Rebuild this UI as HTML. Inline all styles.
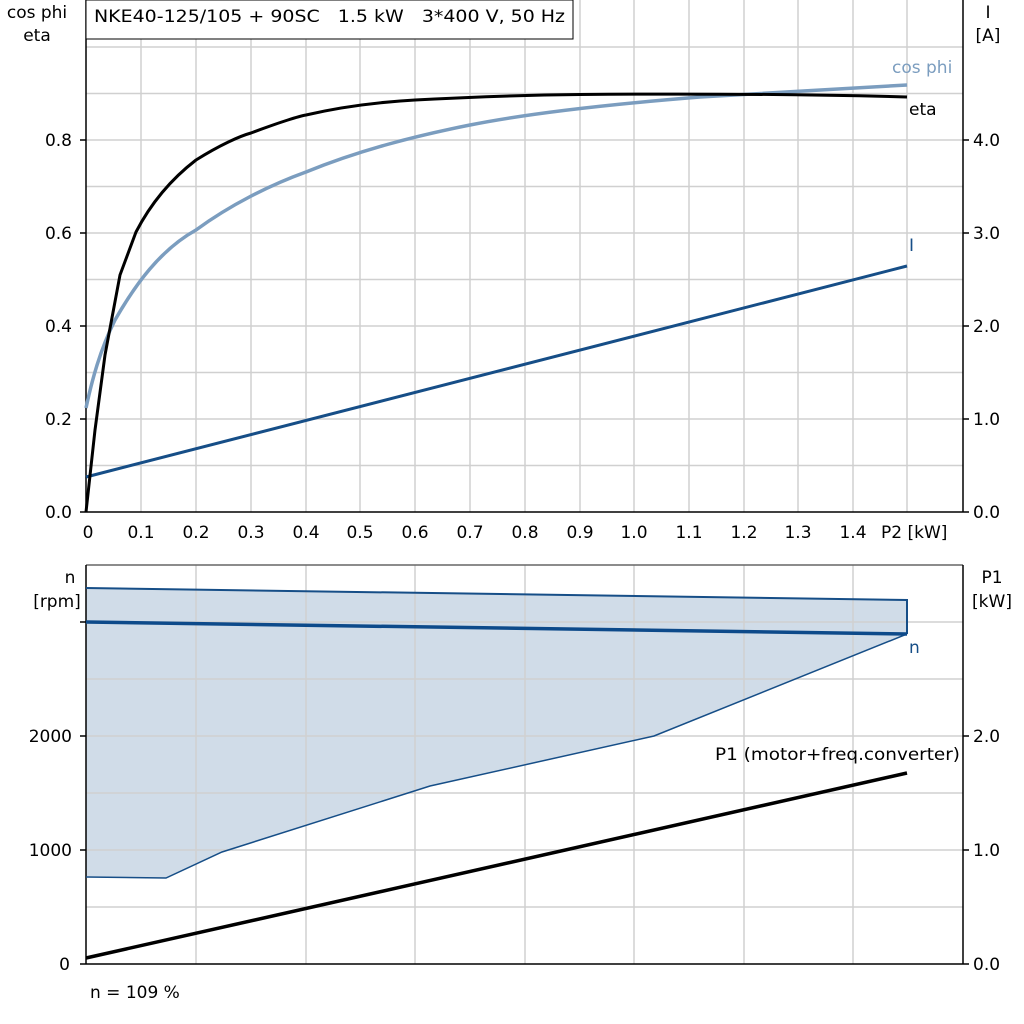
<!DOCTYPE html>
<html><head><meta charset="utf-8"><style>
html,body{margin:0;padding:0;background:#fff;}
svg{display:block;font-family:"DejaVu Sans","Liberation Sans",sans-serif;}
text{white-space:pre;}
</style></head><body>
<svg width="1024" height="1024" viewBox="0 0 1024 1024" xmlns="http://www.w3.org/2000/svg" xml:space="preserve">
<rect width="1024" height="1024" fill="#fff"/>
<g stroke="#d0d0d0" stroke-width="1.5">
<line x1="141" y1="0" x2="141" y2="512"/><line x1="196" y1="0" x2="196" y2="512"/>
<line x1="251" y1="0" x2="251" y2="512"/><line x1="306" y1="0" x2="306" y2="512"/>
<line x1="360" y1="0" x2="360" y2="512"/><line x1="415" y1="0" x2="415" y2="512"/>
<line x1="470" y1="0" x2="470" y2="512"/><line x1="525" y1="0" x2="525" y2="512"/>
<line x1="580" y1="0" x2="580" y2="512"/><line x1="634" y1="0" x2="634" y2="512"/>
<line x1="689" y1="0" x2="689" y2="512"/><line x1="744" y1="0" x2="744" y2="512"/>
<line x1="798" y1="0" x2="798" y2="512"/><line x1="853" y1="0" x2="853" y2="512"/>
<line x1="907" y1="0" x2="907" y2="512"/>
<line x1="86" y1="465.5" x2="963" y2="465.5"/><line x1="86" y1="419" x2="963" y2="419"/>
<line x1="86" y1="372.5" x2="963" y2="372.5"/><line x1="86" y1="326" x2="963" y2="326"/>
<line x1="86" y1="279.5" x2="963" y2="279.5"/><line x1="86" y1="233" x2="963" y2="233"/>
<line x1="86" y1="186.5" x2="963" y2="186.5"/><line x1="86" y1="140" x2="963" y2="140"/>
<line x1="86" y1="93.5" x2="963" y2="93.5"/><line x1="86" y1="47" x2="963" y2="47"/>
</g>
<g stroke="#000" stroke-width="1.5" fill="none">
<line x1="86" y1="0" x2="86" y2="512"/><line x1="963" y1="0" x2="963" y2="512"/>
<line x1="86" y1="512" x2="963" y2="512"/>
<line x1="80" y1="512" x2="86" y2="512"/><line x1="80" y1="419" x2="86" y2="419"/><line x1="80" y1="326" x2="86" y2="326"/><line x1="80" y1="233" x2="86" y2="233"/><line x1="80" y1="140" x2="86" y2="140"/>
<line x1="963" y1="512" x2="969" y2="512"/><line x1="963" y1="419" x2="969" y2="419"/><line x1="963" y1="326" x2="969" y2="326"/><line x1="963" y1="233" x2="969" y2="233"/><line x1="963" y1="140" x2="969" y2="140"/>
</g>
<rect x="86" y="0" width="487" height="39" fill="#fff" stroke="#000" stroke-width="1"/>
<text x="94" y="22" font-size="17" textLength="471" lengthAdjust="spacingAndGlyphs">NKE40-125/105 + 90SC   1.5 kW   3*400 V, 50 Hz</text>
<g font-size="17" fill="#000">
<text x="37" y="18" text-anchor="middle">cos phi</text><text x="37" y="41" text-anchor="middle">eta</text>
<text x="988" y="18" text-anchor="middle">I</text><text x="988" y="41" text-anchor="middle">[A]</text>
<g text-anchor="end"><text x="72" y="518">0.0</text><text x="72" y="425">0.2</text><text x="72" y="332">0.4</text><text x="72" y="239">0.6</text><text x="72" y="146">0.8</text></g>
<g><text x="973" y="518">0.0</text><text x="973" y="425">1.0</text><text x="973" y="332">2.0</text><text x="973" y="239">3.0</text><text x="973" y="146">4.0</text></g>
<g text-anchor="middle"><text x="88" y="538">0</text><text x="141" y="538">0.1</text><text x="196" y="538">0.2</text><text x="251" y="538">0.3</text><text x="306" y="538">0.4</text><text x="360" y="538">0.5</text><text x="415" y="538">0.6</text><text x="470" y="538">0.7</text><text x="525" y="538">0.8</text><text x="580" y="538">0.9</text><text x="634" y="538">1.0</text><text x="689" y="538">1.1</text><text x="744" y="538">1.2</text><text x="798" y="538">1.3</text><text x="853" y="538">1.4</text></g>
<text x="881" y="538">P2 [kW]</text>
</g>
<polyline fill="none" stroke="#164e87" stroke-width="3" points="86,477 907,266"/>
<path fill="none" stroke="#7b9dbf" stroke-width="3.5" d="M86,408 C92,380 100,350 115,320 C135,285 160,250 196,230 C230,205 270,185 306,172 C360,150 415,136 470,125 C525,114 600,105 700,97 C780,92 850,88 907,85"/>
<path fill="none" stroke="#000" stroke-width="3" d="M86,512 L95,430 L105,355 L120,275 L136,232 C150,205 170,180 196,160 C220,145 240,136 251,133 C280,122 300,116 306,115 C340,107 380,102 415,100 C470,97 525,95 580,94.5 C700,93.5 800,94 907,97"/>
<text x="892" y="73" font-size="17" fill="#7b9dbf">cos phi</text>
<text x="909" y="115" font-size="17" fill="#000">eta</text>
<text x="909" y="251" font-size="17" fill="#164e87">I</text>

<polygon fill="#d0dce8" points="86,588 907,600 907,634 654,736 430,786 222,852 166,878 86,877"/>
<g stroke="#d0d0d0" stroke-width="1.5">
<line x1="196" y1="565" x2="196" y2="964"/><line x1="306" y1="565" x2="306" y2="964"/><line x1="415" y1="565" x2="415" y2="964"/><line x1="525" y1="565" x2="525" y2="964"/><line x1="634" y1="565" x2="634" y2="964"/><line x1="744" y1="565" x2="744" y2="964"/><line x1="853" y1="565" x2="853" y2="964"/>
<line x1="86" y1="622" x2="963" y2="622"/><line x1="86" y1="679" x2="963" y2="679"/><line x1="86" y1="736" x2="963" y2="736"/><line x1="86" y1="793" x2="963" y2="793"/><line x1="86" y1="850" x2="963" y2="850"/><line x1="86" y1="907" x2="963" y2="907"/>
</g>
<g stroke="#000" stroke-width="1.5" fill="none">
<line x1="86" y1="565" x2="963" y2="565" stroke="#666"/>
<line x1="86" y1="565" x2="86" y2="964"/><line x1="963" y1="565" x2="963" y2="964"/><line x1="86" y1="964" x2="963" y2="964"/>
<line x1="80" y1="964" x2="86" y2="964"/><line x1="80" y1="850" x2="86" y2="850"/><line x1="80" y1="736" x2="86" y2="736"/><line x1="80" y1="622" x2="86" y2="622"/>
<line x1="963" y1="964" x2="969" y2="964"/><line x1="963" y1="850" x2="969" y2="850"/><line x1="963" y1="736" x2="969" y2="736"/>
</g>
<polyline fill="none" stroke="#164e87" stroke-width="2" points="86,588 907,600 907,634"/>
<polyline fill="none" stroke="#164e87" stroke-width="1.5" points="907,634 654,736 430,786 222,852 166,878 86,877"/>
<polyline fill="none" stroke="#0d4a8a" stroke-width="3.5" points="86,622 907,634"/>
<polyline fill="none" stroke="#000" stroke-width="3.5" points="86,958 907,773"/>
<g font-size="17" fill="#000">
<text x="70" y="583" text-anchor="middle">n</text><text x="57" y="607" text-anchor="middle">[rpm]</text>
<text x="992" y="583" text-anchor="middle">P1</text><text x="992" y="607" text-anchor="middle">[kW]</text>
<g text-anchor="end"><text x="70" y="970">0</text><text x="72" y="856">1000</text><text x="72" y="742">2000</text></g>
<text x="973" y="970">0.0</text><text x="973" y="856">1.0</text><text x="973" y="742">2.0</text>
<text x="715" y="760" textLength="245" lengthAdjust="spacingAndGlyphs">P1 (motor+freq.converter)</text>
<text x="90" y="998">n = 109 %</text>
</g>
<text x="909" y="653" font-size="17" fill="#164e87">n</text>
</svg>
</body></html>
